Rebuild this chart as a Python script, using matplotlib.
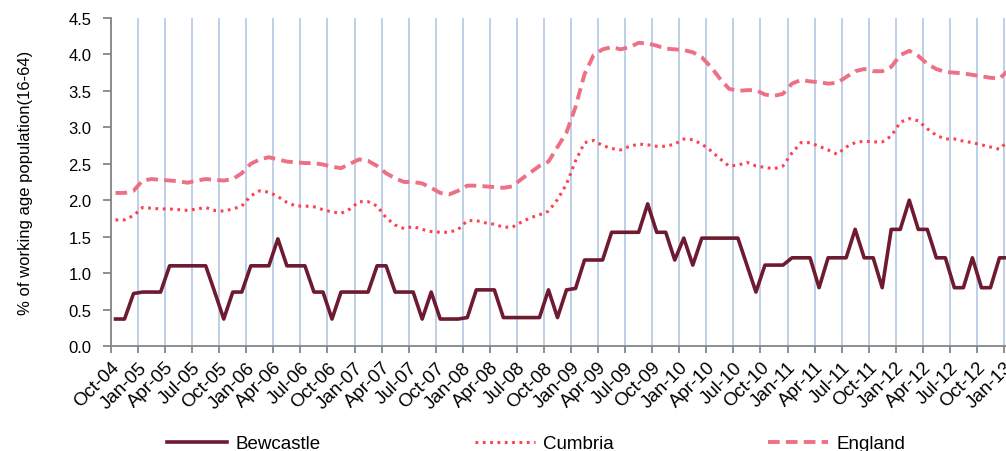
import matplotlib
matplotlib.use("Agg")
import matplotlib.pyplot as plt
import matplotlib.transforms as mtransforms

plt.rcParams['font.family'] = ['Liberation Sans', 'DejaVu Sans']

# monthly values, Oct-04 .. Jan-13
bewcastle = [0.37, 0.37, 0.72, 0.74, 0.74, 0.74, 1.10, 1.10, 1.10, 1.10,
             1.10, 0.74, 0.37, 0.74, 0.74, 1.10, 1.10, 1.10, 1.47, 1.10,
             1.10, 1.10, 0.74, 0.74, 0.37, 0.74, 0.74, 0.74, 0.74, 1.10,
             1.10, 0.74, 0.74, 0.74, 0.37, 0.74, 0.37, 0.37, 0.37, 0.39,
             0.77, 0.77, 0.77, 0.39, 0.39, 0.39, 0.39, 0.39, 0.77, 0.39,
             0.77, 0.79, 1.18, 1.18, 1.18, 1.56, 1.56, 1.56, 1.56, 1.95,
             1.56, 1.56, 1.18, 1.48, 1.11, 1.48, 1.48, 1.48, 1.48, 1.48,
             1.11, 0.74, 1.11, 1.11, 1.11, 1.21, 1.21, 1.21, 0.80, 1.21,
             1.21, 1.21, 1.60, 1.21, 1.21, 0.80, 1.60, 1.60, 2.00, 1.60,
             1.60, 1.21, 1.21, 0.80, 0.80, 1.21, 0.80, 0.80, 1.21, 1.21]

cumbria = [1.73, 1.73, 1.79, 1.90, 1.89, 1.88, 1.88, 1.87, 1.86, 1.88,
           1.90, 1.86, 1.85, 1.88, 1.92, 2.06, 2.13, 2.11, 2.05, 1.97,
           1.92, 1.92, 1.91, 1.87, 1.84, 1.82, 1.88, 1.98, 1.98, 1.92,
           1.76, 1.66, 1.61, 1.64, 1.60, 1.57, 1.56, 1.56, 1.60, 1.72,
           1.72, 1.69, 1.67, 1.63, 1.63, 1.70, 1.76, 1.80, 1.85, 2.01,
           2.22, 2.54, 2.79, 2.82, 2.75, 2.71, 2.69, 2.74, 2.77, 2.76,
           2.74, 2.74, 2.77, 2.84, 2.83, 2.77, 2.68, 2.57, 2.47, 2.48,
           2.52, 2.47, 2.45, 2.43, 2.47, 2.65, 2.79, 2.79, 2.74, 2.69,
           2.63, 2.73, 2.79, 2.81, 2.80, 2.80, 2.88, 3.07, 3.12, 3.09,
           2.98, 2.89, 2.84, 2.84, 2.81, 2.79, 2.76, 2.73, 2.70, 2.82]

england = [2.10, 2.10, 2.13, 2.27, 2.29, 2.28, 2.27, 2.26, 2.24, 2.27,
           2.29, 2.28, 2.27, 2.29, 2.37, 2.50, 2.56, 2.59, 2.56, 2.53,
           2.52, 2.51, 2.51, 2.49, 2.46, 2.44, 2.50, 2.56, 2.54, 2.47,
           2.37, 2.30, 2.25, 2.25, 2.23, 2.17, 2.10, 2.08, 2.13, 2.20,
           2.20, 2.19, 2.18, 2.17, 2.19, 2.29, 2.38, 2.47, 2.53, 2.73,
           2.93, 3.28, 3.73, 3.99, 4.07, 4.10, 4.07, 4.10, 4.16, 4.15,
           4.12, 4.08, 4.07, 4.06, 4.03, 3.96, 3.83, 3.67, 3.53, 3.50,
           3.51, 3.51, 3.45, 3.43, 3.46, 3.60, 3.65, 3.63, 3.62, 3.60,
           3.61, 3.69, 3.77, 3.80, 3.77, 3.77, 3.83, 3.99, 4.05, 3.98,
           3.87, 3.80, 3.76, 3.75, 3.74, 3.72, 3.70, 3.68, 3.67, 3.78]

tick_labels = ["Oct-04", "Jan-05", "Apr-05", "Jul-05", "Oct-05", "Jan-06", "Apr-06",
               "Jul-06", "Oct-06", "Jan-07", "Apr-07", "Jul-07", "Oct-07", "Jan-08",
               "Apr-08", "Jul-08", "Oct-08", "Jan-09", "Apr-09", "Jul-09", "Oct-09",
               "Jan-10", "Apr-10", "Jul-10", "Oct-10", "Jan-11", "Apr-11", "Jul-11",
               "Oct-11", "Jan-12", "Apr-12", "Jul-12", "Oct-12", "Jan-13"]

months = list(range(len(bewcastle)))
tick_pos = [3 * i - 0.5 for i in range(len(tick_labels))]

fig = plt.figure(figsize=(10.06, 4.52), dpi=100)
# axes runs a little past the right edge, like the cropped original
ax = fig.add_axes([111 / 1006, 105 / 452, 902 / 1006, 328 / 452])

for t in tick_pos:
    ax.axvline(t, color='#b9cde5', lw=1.3, zorder=0)

ax.plot(months, bewcastle, color='#6e1a31', lw=2.6, label='Bewcastle', zorder=3)
ax.plot(months, cumbria, color='#ff4050', lw=2.2, linestyle=(0, (0.9, 1.5)),
        label='Cumbria', zorder=2)
ax.plot(months, england, color='#ee7085', lw=2.8, linestyle=(0, (3, 1.6)),
        label='England', zorder=2)

ax.set_xlim(-0.5, len(months) - 0.5)
ax.set_ylim(0, 4.5)
ax.set_yticks([i * 0.5 for i in range(10)])
ax.set_yticklabels([f"{i * 0.5:.1f}" for i in range(10)], fontsize=12)
ax.set_xticks(tick_pos)
ax.set_xticklabels(tick_labels, fontsize=13.5, rotation=45, ha='right', va='top',
                   rotation_mode='anchor')
offset = mtransforms.ScaledTranslation(6 / 100, -4 / 100, fig.dpi_scale_trans)
for lab in ax.get_xticklabels():
    lab.set_transform(lab.get_transform() + offset)

for s in ['top', 'right']:
    ax.spines[s].set_visible(False)
for s in ['left', 'bottom']:
    ax.spines[s].set_color('#868686')
    ax.spines[s].set_linewidth(1.3)
ax.tick_params(axis='both', colors='#868686', labelcolor='black', width=1.3)
ax.tick_params(axis='y', length=6, pad=8)
ax.tick_params(axis='x', length=5, pad=4)

ax.set_ylabel('% of working age population(16-64)', fontsize=12)
ax.yaxis.set_label_coords(-0.087, 0.5)

fig.legend(loc='lower center', bbox_to_anchor=(0.533, -0.04), ncol=3, frameon=False,
           fontsize=13.5, handlelength=3.2, handletextpad=0.45, columnspacing=8.2)

fig.savefig('out.png', dpi=100)
